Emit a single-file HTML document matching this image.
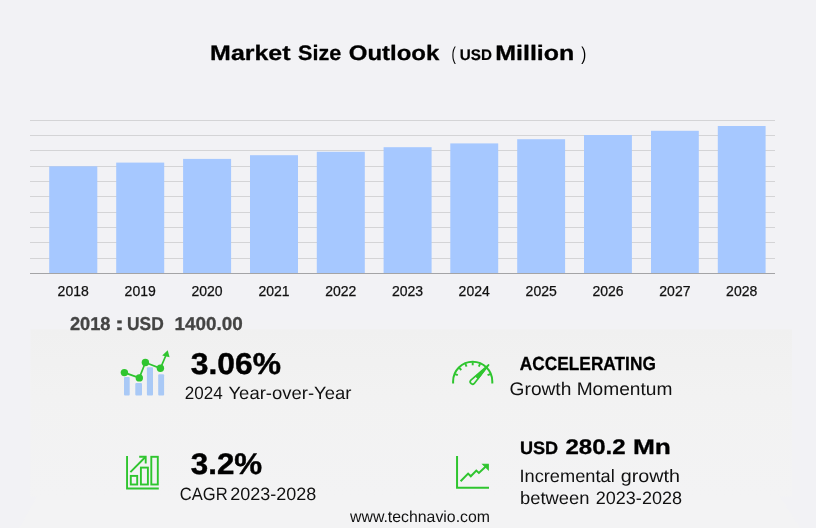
<!DOCTYPE html>
<html lang="en"><head><meta charset="utf-8"><title>Market Size Outlook</title>
<style>
html,body{margin:0;padding:0;background:#f2f2f5;}
body{width:816px;height:528px;overflow:hidden;position:relative;}
svg{position:absolute;left:0;top:0;display:block;}
text{font-family:"Liberation Sans",sans-serif;text-rendering:geometricPrecision;}
.b{font-weight:bold;}
.ax{font-size:14px;text-anchor:middle;text-rendering:auto;}
</style></head><body>
<svg width="816" height="528" viewBox="0 0 816 528">
<defs><linearGradient id="pg" x1="0" y1="0" x2="0" y2="1"><stop offset="0" stop-color="#f0f0f0"/><stop offset="0.4" stop-color="#f2f2f2"/><stop offset="1" stop-color="#f3f3f4"/></linearGradient></defs>
<rect x="0" y="0" width="816" height="528" fill="#f2f2f5"/>
<rect x="30.5" y="329.4" width="761.5" height="167" fill="url(#pg)"/>
<polygon points="37,496.4 780,496.4 800,528 19.5,528" fill="#f3f3f4"/>
<rect x="30" y="120" width="745" height="1" fill="#d4d4d6"/>
<rect x="30" y="135" width="745" height="1" fill="#d4d4d6"/>
<rect x="30" y="150" width="745" height="1" fill="#d4d4d6"/>
<rect x="30" y="166" width="745" height="1" fill="#d4d4d6"/>
<rect x="30" y="181" width="745" height="1" fill="#d4d4d6"/>
<rect x="30" y="196" width="745" height="1" fill="#d4d4d6"/>
<rect x="30" y="212" width="745" height="1" fill="#d4d4d6"/>
<rect x="30" y="227" width="745" height="1" fill="#d4d4d6"/>
<rect x="30" y="242" width="745" height="1" fill="#d4d4d6"/>
<rect x="30" y="258" width="745" height="1" fill="#d4d4d6"/>
<rect x="49.2" y="166.3" width="48.1" height="106.9" fill="#a6c8ff"/>
<rect x="116.2" y="162.6" width="48.0" height="110.6" fill="#a6c8ff"/>
<rect x="183.1" y="158.9" width="48.0" height="114.3" fill="#a6c8ff"/>
<rect x="250.0" y="155.2" width="48.0" height="118.0" fill="#a6c8ff"/>
<rect x="316.8" y="151.8" width="48.0" height="121.4" fill="#a6c8ff"/>
<rect x="383.6" y="147.2" width="48.0" height="126.0" fill="#a6c8ff"/>
<rect x="450.3" y="143.4" width="47.9" height="129.8" fill="#a6c8ff"/>
<rect x="517.2" y="139.2" width="47.9" height="134.0" fill="#a6c8ff"/>
<rect x="584.0" y="135.0" width="47.9" height="138.2" fill="#a6c8ff"/>
<rect x="651.0" y="130.8" width="47.8" height="142.4" fill="#a6c8ff"/>
<rect x="717.8" y="126.0" width="47.8" height="147.2" fill="#a6c8ff"/>
<rect x="30" y="273" width="745" height="1" fill="#a4a4a6"/>
<text class="ax" fill="#111" stroke="#111" stroke-width="0.25" x="73.2" y="296.2">2018</text>
<text class="ax" fill="#111" stroke="#111" stroke-width="0.25" x="140.2" y="296.2">2019</text>
<text class="ax" fill="#111" stroke="#111" stroke-width="0.25" x="207.1" y="296.2">2020</text>
<text class="ax" fill="#111" stroke="#111" stroke-width="0.25" x="274.0" y="296.2">2021</text>
<text class="ax" fill="#111" stroke="#111" stroke-width="0.25" x="340.8" y="296.2">2022</text>
<text class="ax" fill="#111" stroke="#111" stroke-width="0.25" x="407.6" y="296.2">2023</text>
<text class="ax" fill="#111" stroke="#111" stroke-width="0.25" x="474.2" y="296.2">2024</text>
<text class="ax" fill="#111" stroke="#111" stroke-width="0.25" x="541.2" y="296.2">2025</text>
<text class="ax" fill="#111" stroke="#111" stroke-width="0.25" x="608.0" y="296.2">2026</text>
<text class="ax" fill="#111" stroke="#111" stroke-width="0.25" x="674.9" y="296.2">2027</text>
<text class="ax" fill="#111" stroke="#111" stroke-width="0.25" x="741.7" y="296.2">2028</text>
<text id="t1a" class="b" x="210.12" y="60.00" font-size="21.00" fill="#000" textLength="80.43" lengthAdjust="spacingAndGlyphs" stroke="#000" stroke-width="0.30" stroke-linejoin="round">Market</text>
<text id="t1b" class="b" x="298.09" y="60.00" font-size="21.00" fill="#000" textLength="43.22" lengthAdjust="spacingAndGlyphs" stroke="#000" stroke-width="0.30" stroke-linejoin="round">Size</text>
<text id="t1c" class="b" x="348.74" y="60.00" font-size="21.00" fill="#000" textLength="90.55" lengthAdjust="spacingAndGlyphs" stroke="#000" stroke-width="0.30" stroke-linejoin="round">Outlook</text>
<text id="t2" class="" x="451.57" y="60.00" font-size="18.80" fill="#000" textLength="4.35" lengthAdjust="spacingAndGlyphs">(</text>
<text id="t3" class="b" x="459.80" y="60.00" font-size="15.40" fill="#000" textLength="32.09" lengthAdjust="spacingAndGlyphs" stroke="#000" stroke-width="0.20" stroke-linejoin="round">USD</text>
<text id="t4" class="b" x="495.32" y="60.00" font-size="21.00" fill="#000" textLength="78.97" lengthAdjust="spacingAndGlyphs" stroke="#000" stroke-width="0.30" stroke-linejoin="round">Million</text>
<text id="t5" class="" x="581.35" y="60.00" font-size="18.80" fill="#000" textLength="5.03" lengthAdjust="spacingAndGlyphs">)</text>
<text id="t6a" class="b" x="69.91" y="330.00" font-size="18.60" fill="#444" textLength="40.60" lengthAdjust="spacingAndGlyphs" stroke="#444" stroke-width="0.30" stroke-linejoin="round">2018</text>
<text id="t6b" class="b" x="114.83" y="330.00" font-size="18.60" fill="#444" textLength="9.47" lengthAdjust="spacingAndGlyphs" stroke="#444" stroke-width="0.30" stroke-linejoin="round">:</text>
<text id="t6c" class="b" x="127.06" y="330.00" font-size="18.60" fill="#444" textLength="36.75" lengthAdjust="spacingAndGlyphs" stroke="#444" stroke-width="0.30" stroke-linejoin="round">USD</text>
<text id="t6d" class="b" x="174.64" y="330.00" font-size="18.60" fill="#444" textLength="68.14" lengthAdjust="spacingAndGlyphs" stroke="#444" stroke-width="0.30" stroke-linejoin="round">1400.00</text>
<text id="t7" class="b" x="190.81" y="374.00" font-size="30.20" fill="#000" textLength="90.13" lengthAdjust="spacingAndGlyphs" stroke="#000" stroke-width="0.45" stroke-linejoin="round">3.06%</text>
<text id="t8a" class="" x="184.79" y="399.00" font-size="17.90" fill="#111" textLength="37.91" lengthAdjust="spacingAndGlyphs">2024</text>
<text id="t8b" class="" x="228.48" y="399.00" font-size="17.90" fill="#111" textLength="122.99" lengthAdjust="spacingAndGlyphs">Year-over-Year</text>
<text id="t9" class="b" x="519.85" y="370.00" font-size="19.00" fill="#000" textLength="136.01" lengthAdjust="spacingAndGlyphs" stroke="#000" stroke-width="0.30" stroke-linejoin="round">ACCELERATING</text>
<text id="t10" class="" x="509.61" y="395.00" font-size="18.20" fill="#111" textLength="162.79" lengthAdjust="spacingAndGlyphs">Growth Momentum</text>
<text id="t11" class="b" x="190.81" y="474.00" font-size="29.80" fill="#000" textLength="71.39" lengthAdjust="spacingAndGlyphs" stroke="#000" stroke-width="0.45" stroke-linejoin="round">3.2%</text>
<text id="t12a" class="" x="179.77" y="500.00" font-size="17.90" fill="#111" textLength="47.88" lengthAdjust="spacingAndGlyphs">CAGR</text>
<text id="t12b" class="" x="230.19" y="500.00" font-size="17.90" fill="#111" textLength="86.07" lengthAdjust="spacingAndGlyphs">2023-2028</text>
<text id="t13" class="b" x="519.98" y="454.00" font-size="17.80" fill="#000" textLength="38.23" lengthAdjust="spacingAndGlyphs" stroke="#000" stroke-width="0.30" stroke-linejoin="round">USD</text>
<text id="t14a" class="b" x="565.52" y="454.00" font-size="21.20" fill="#000" textLength="60.12" lengthAdjust="spacingAndGlyphs" stroke="#000" stroke-width="0.30" stroke-linejoin="round">280.2</text>
<text id="t14b" class="b" x="632.90" y="454.00" font-size="21.20" fill="#000" textLength="37.97" lengthAdjust="spacingAndGlyphs" stroke="#000" stroke-width="0.30" stroke-linejoin="round">Mn</text>
<text id="t15a" class="" x="519.47" y="482.00" font-size="17.90" fill="#111" textLength="95.23" lengthAdjust="spacingAndGlyphs">Incremental</text>
<text id="t15b" class="" x="620.74" y="482.00" font-size="17.90" fill="#111" textLength="59.28" lengthAdjust="spacingAndGlyphs">growth</text>
<text id="t16a" class="" x="519.97" y="504.00" font-size="17.90" fill="#111" textLength="69.50" lengthAdjust="spacingAndGlyphs">between</text>
<text id="t16b" class="" x="595.74" y="504.00" font-size="17.90" fill="#111" textLength="86.28" lengthAdjust="spacingAndGlyphs">2023-2028</text>
<text id="t17" class="" x="350.00" y="522.00" font-size="15.90" fill="#111" textLength="140.03" lengthAdjust="spacingAndGlyphs">www.technavio.com</text>
<g id="ic1">
<rect x="124.0" y="376.9" width="5.7" height="18.7" rx="1" fill="#a9c9f6"/>
<rect x="135.3" y="383.0" width="6.7" height="12.6" rx="1" fill="#a9c9f6"/>
<rect x="146.9" y="367.3" width="6.1" height="28.3" rx="1" fill="#a9c9f6"/>
<rect x="158.2" y="374.2" width="5.9" height="21.4" rx="1" fill="#a9c9f6"/>
<polyline points="124.4,372.6 139.3,377.9 145.4,362.5 160.4,368.3 166.3,354.5" fill="none" stroke="#2fc52f" stroke-width="1.7"/>
<circle cx="124.4" cy="372.6" r="3.7" fill="#2fc52f"/>
<circle cx="139.3" cy="377.9" r="3.7" fill="#2fc52f"/>
<circle cx="145.4" cy="362.5" r="3.7" fill="#2fc52f"/>
<circle cx="160.4" cy="368.3" r="3.7" fill="#2fc52f"/>
<polygon points="167.7,350.3 169.6,357.3 162.2,355.6" fill="#2fc52f"/>
</g>
<g id="ic2" fill="none" stroke="#2fc52f" stroke-width="2">
<path d="M453.1,383.6 V381.4 A19.6,19.6 0 0 1 492.3,381.4 V383.6"/>
<line x1="455.05" y1="374.09" x2="457.83" y2="375.24" stroke-width="1.9"/>
<line x1="459.19" y1="367.89" x2="461.32" y2="370.02" stroke-width="1.9"/>
<line x1="465.39" y1="363.75" x2="466.54" y2="366.53" stroke-width="1.9"/>
<line x1="472.70" y1="362.30" x2="472.70" y2="365.30" stroke-width="1.9"/>
<line x1="480.01" y1="363.75" x2="478.86" y2="366.53" stroke-width="1.9"/>
<line x1="490.35" y1="374.09" x2="487.57" y2="375.24" stroke-width="1.9"/>
<path d="M488.6,365.0 L474.3,383.4 A2.35,2.35 0 0 1 470.9,380.1 Z" stroke-width="1.7" stroke-linejoin="round" fill="#f1f1f1"/>
<path d="M488.6,365.0 L478.2,379.0 L475.4,376.3 Z" fill="#2fc52f" stroke-width="0.8"/>
</g>
<g id="ic3" fill="none" stroke="#2fc52f" stroke-width="1.9" stroke-linecap="butt">
<path d="M127.05,455.9 V488.45 H158.8"/>
<rect x="130.8" y="475.9" width="6.4" height="8.6"/>
<rect x="140.9" y="467.6" width="7.0" height="16.9"/>
<rect x="151.3" y="456.8" width="6.5" height="27.7"/>
<path d="M130.4,472.2 L145.4,457.0"/>
<path d="M139.2,456.8 H145.7 V463.4"/>
</g>
<g id="ic4" fill="none" stroke="#2fc52f" stroke-width="2" stroke-linecap="butt">
<path d="M457.05,455.9 V487.75 H489"/>
<path d="M460.6,481.2 L468.1,473.6 L470.8,476.3 L476.3,470.6 L478.9,472.9 L487.6,464.8" stroke-linejoin="miter"/>
<path d="M482.8,464.3 H488.3 V469.7 Z" fill="#2fc52f" stroke-width="1.1"/>
</g>
</svg></body></html>
